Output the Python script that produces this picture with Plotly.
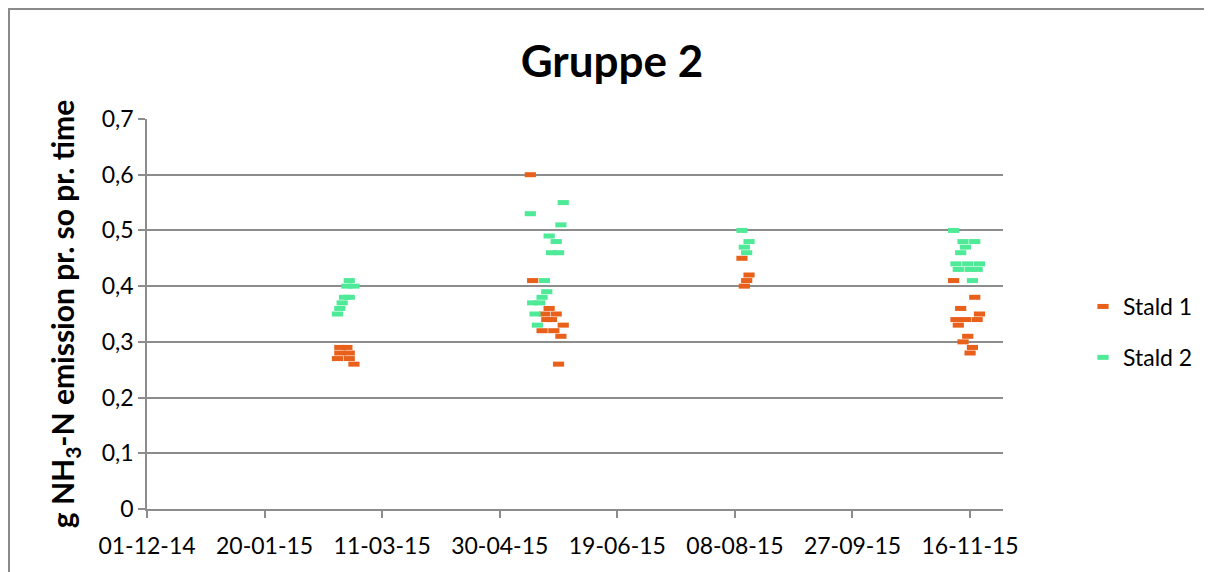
import plotly.graph_objects as go

# ---- data ----
stald1_dates = [
    "2015-02-21", "2015-02-24", "2015-02-21", "2015-02-25", "2015-02-20", "2015-02-25", "2015-02-27",
    "2015-05-13", "2015-05-14", "2015-05-21", "2015-05-19", "2015-05-24", "2015-05-20", "2015-05-22",
    "2015-05-27", "2015-05-18", "2015-05-23", "2015-05-26", "2015-05-25",
    "2015-08-11", "2015-08-14", "2015-08-13", "2015-08-12",
    "2015-11-09", "2015-11-18", "2015-11-12", "2015-11-20", "2015-11-10", "2015-11-14", "2015-11-19",
    "2015-11-11", "2015-11-15", "2015-11-13", "2015-11-17", "2015-11-16",
]
stald1_values = [
    0.29, 0.29, 0.28, 0.28, 0.27, 0.27, 0.26,
    0.60, 0.41, 0.36, 0.35, 0.35, 0.34, 0.34,
    0.33, 0.32, 0.32, 0.31, 0.26,
    0.45, 0.42, 0.41, 0.40,
    0.41, 0.38, 0.36, 0.35, 0.34, 0.34, 0.34,
    0.33, 0.31, 0.30, 0.29, 0.28,
]

stald2_dates = [
    "2015-02-20", "2015-02-21", "2015-02-22", "2015-02-23", "2015-02-25", "2015-02-24", "2015-02-27", "2015-02-25",
    "2015-05-27", "2015-05-13", "2015-05-26", "2015-05-21", "2015-05-24", "2015-05-22", "2015-05-25",
    "2015-05-19", "2015-05-20", "2015-05-18", "2015-05-14", "2015-05-17", "2015-05-15", "2015-05-16",
    "2015-08-11", "2015-08-14", "2015-08-12", "2015-08-13",
    "2015-11-09", "2015-11-13", "2015-11-18", "2015-11-14", "2015-11-12", "2015-11-10", "2015-11-15",
    "2015-11-20", "2015-11-11", "2015-11-16", "2015-11-19", "2015-11-17",
]
stald2_values = [
    0.35, 0.36, 0.37, 0.38, 0.38, 0.40, 0.40, 0.41,
    0.55, 0.53, 0.51, 0.49, 0.48, 0.46, 0.46,
    0.41, 0.39, 0.38, 0.37, 0.37, 0.35, 0.33,
    0.50, 0.48, 0.47, 0.46,
    0.50, 0.48, 0.48, 0.47, 0.46, 0.44, 0.44,
    0.44, 0.43, 0.43, 0.43, 0.41,
]

x_tick_dates = ["2014-12-01", "2015-01-20", "2015-03-11", "2015-04-30",
                "2015-06-19", "2015-08-08", "2015-09-27", "2015-11-16"]
x_tick_labels = ["01-12-14", "20-01-15", "11-03-15", "30-04-15",
                 "19-06-15", "08-08-15", "27-09-15", "16-11-15"]
y_tick_values = [0, 0.1, 0.2, 0.3, 0.4, 0.5, 0.6, 0.7]

FONT = "Lato"
ORANGE = "#E8601A"
GREEN = "#4EEA98"
GRID = "#8C8C8C"

fig = go.Figure()
for name, xs, ys, col in [("Stald 1", stald1_dates, stald1_values, ORANGE),
                          ("Stald 2", stald2_dates, stald2_values, GREEN)]:
    fig.add_trace(go.Scatter(
        x=xs, y=ys, mode="markers", name=name, legendgroup=name,
        marker=dict(symbol="line-ew", size=8, color=col,
                    line=dict(width=5, color=col)),
    ))

# page has an 8px body margin, so figure coords = screenshot coords - 8
W, H = 1204, 564
L, T = 139, 111
PR, PB = 995, 501
R, B = W - PR, H - PB
pw, ph = PR - L, PB - T

fig.update_layout(
    width=W, height=H,
    margin=dict(l=L, r=R, t=T, b=B, autoexpand=False),
    paper_bgcolor="white", plot_bgcolor="white",
    separators=",.",
    font=dict(family=FONT, size=23, color="black"),
    title=dict(text="<b>Gruppe 2</b>", x=604 / W, xanchor="center",
               y=1 - 54 / H, yanchor="middle",
               font=dict(family=FONT, size=44, color="black")),
    showlegend=True,
    legend=dict(x=(1075 - L) / pw, xanchor="left", y=(PB - 324) / ph, yanchor="middle",
                font=dict(family=FONT, size=23, color="black"),
                tracegroupgap=18, bgcolor="rgba(0,0,0,0)", borderwidth=0),
    xaxis=dict(
        type="date", range=["2014-12-01", "2015-11-30"],
        tickvals=x_tick_dates, ticktext=x_tick_labels,
        showgrid=False, zeroline=False,
        showline=True, linecolor=GRID, linewidth=1.5,
        ticks="outside", ticklen=7, tickcolor=GRID, tickwidth=1.5,
        ticklabelstandoff=9,
        tickfont=dict(family=FONT, size=23, color="black"),
    ),
    yaxis=dict(
        range=[0, 0.7], tickvals=y_tick_values,
        showgrid=True, gridcolor=GRID, gridwidth=1.5, zeroline=False,
        showline=True, linecolor=GRID, linewidth=1.5,
        ticks="outside", ticklen=7, tickcolor=GRID, tickwidth=1.5,
        tickfont=dict(family=FONT, size=23, color="black"),
        title=dict(text="<b>g NH<sub>3</sub>-N emission pr. so pr. time</b>",
                   font=dict(family=FONT, size=30, color="black"), standoff=18),
    ),
    shapes=[dict(type="rect", xref="paper", yref="paper",
                 x0=(1 - L) / pw, x1=(1215 - L) / pw,
                 y0=(PB - 570) / ph, y1=(PB - 1) / ph,
                 line=dict(color="#8A8A8A", width=2), fillcolor="rgba(0,0,0,0)",
                 layer="below")],
)

fig.write_html("out.html")
